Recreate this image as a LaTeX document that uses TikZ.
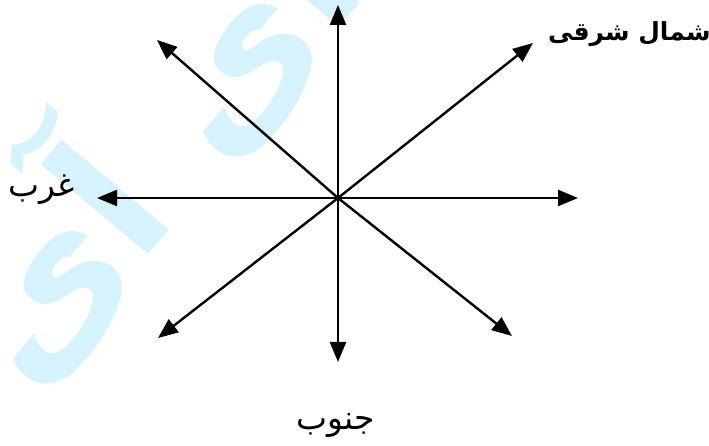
\documentclass[tikz,border=0pt]{standalone}
\usepackage{fontspec}
\usepackage{tikz}
\usetikzlibrary{arrows.meta}
\TeXXeTstate=1
\newfontfamily\arabicfont[Script=Arabic]{DejaVu Sans}
\definecolor{wmcyan}{RGB}{214,242,252}
\tikzset{
  dirarrow/.style={-{Triangle[length=20bp,width=16bp]}, line width=2.4bp, black},
  dirlabel/.style={font=\arabicfont\fontsize{33}{36}\selectfont, inner sep=0pt},
}

\begin{document}
\begin{tikzpicture}[x=1bp,y=1bp]
  \useasboundingbox (0,0) rectangle (709,446);
  % Watermark
  \begin{scope}
    \clip (0,0) rectangle (709,446);
    \node[rotate=50, text=wmcyan, font=\arabicfont\bfseries\fontsize{185}{185}\selectfont] (mark) at (140,303) {\beginR آی آی\endR};
  \end{scope}
  % Centre and arrow tips
  \coordinate (o) at (338,248);
  \coordinate (n) at (338,441);
  \coordinate (s) at (338,84);
  \coordinate (w) at (97,248);
  \coordinate (e) at (578,248);
  \coordinate (ne) at (533,403);
  \coordinate (nw) at (157,406);
  \coordinate (sw) at (158,108);
  \coordinate (se) at (512,110);
  % Arrows
  \foreach \tip in {n,s,e,w,ne,nw,se,sw}
    \draw[dirarrow] (o) -- (\tip);
  % Labels
  \node[dirlabel, font=\arabicfont\bfseries\fontsize{25}{28}\selectfont, anchor=west] (northeast) at (548,412) {\beginR شمال شرقی\endR};
  \node[dirlabel, anchor=west] (west) at (8,256) {\beginR غرب\endR};
  \node[dirlabel] (south) at (336,21) {\beginR جنوب\endR};
\end{tikzpicture}
\end{document}
